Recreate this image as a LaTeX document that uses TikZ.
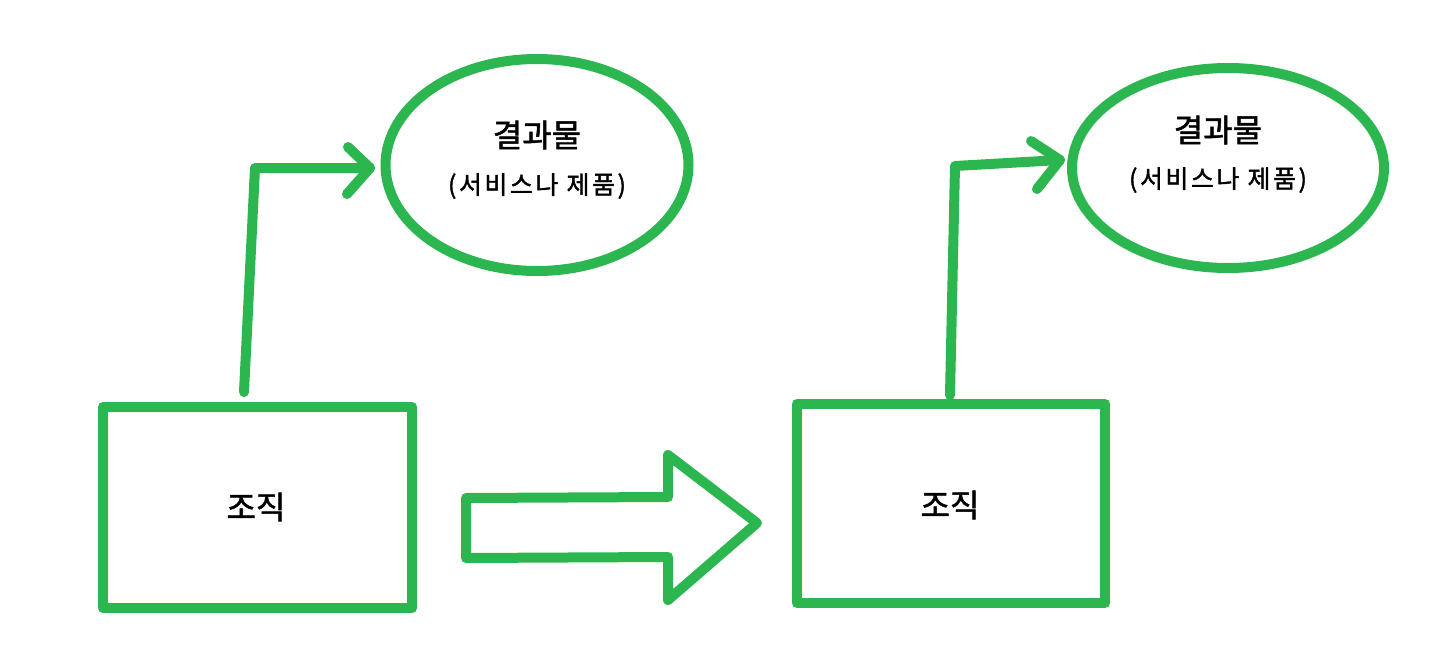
\documentclass[tikz,border=0pt]{standalone}
\usepackage{fontspec}
\setmainfont{Noto Sans CJK KR}[FakeBold=1.5]
\newfontfamily\krspaced{Noto Sans CJK KR}[FakeBold=1.5, LetterSpace=10]
\usetikzlibrary{shapes.geometric}
\definecolor{pen}{RGB}{44,182,80}
\tikzset{
  ink/.style={draw=pen, line width=10pt, line join=round, line cap=round},
  org/.style={ink, rectangle, inner sep=0pt},
  result/.style={ink, ellipse, inner sep=0pt},
  big/.style={font=\fontsize{32}{36}\selectfont},
  small/.style={font=\krspaced\fontsize{25}{28}\selectfont},
}
\begin{document}
\begin{tikzpicture}[x=1pt,y=-1pt]
\useasboundingbox (0,0) rectangle (1444,656);
% left box
\node[org, minimum width=309pt, minimum height=201pt] (box1) at (257.5,507.5) {};
\node[big] (t1) at (256,507) {조직};
% left ellipse
\node[result, minimum width=303pt, minimum height=212pt] (ell1) at (537,165) {};
\node[big] (r1a) at (537,135) {결과물};
\node[small] (r1b) at (537,186) {(서비스나 제품)};
% right box
\node[org, minimum width=308pt, minimum height=199pt] (box2) at (951,503.5) {};
\node[big] (t2) at (950,505) {조직};
% right ellipse
\node[result, minimum width=312pt, minimum height=200pt] (ell2) at (1228,168) {};
\node[big] (r2a) at (1218,130) {결과물};
\node[small] (r2b) at (1218,180) {(서비스나 제품)};
% left connector
\coordinate (h1) at (370,168);
\draw[ink] (244,392) -- (255,168) -- (h1);
\draw[ink] (348,147) -- (h1) -- (347,194);
% right connector
\coordinate (h2) at (1060,160);
\draw[ink] (950,395) -- (955,166) -- (h2);
\draw[ink] (1031,141) -- (h2) -- (1037,189);
% block arrow
\draw[ink] (466,498) -- (668,497) -- (668,455) -- (757,523) -- (668,600) -- (668,557) -- (466,558) -- cycle;
\end{tikzpicture}
\end{document}
